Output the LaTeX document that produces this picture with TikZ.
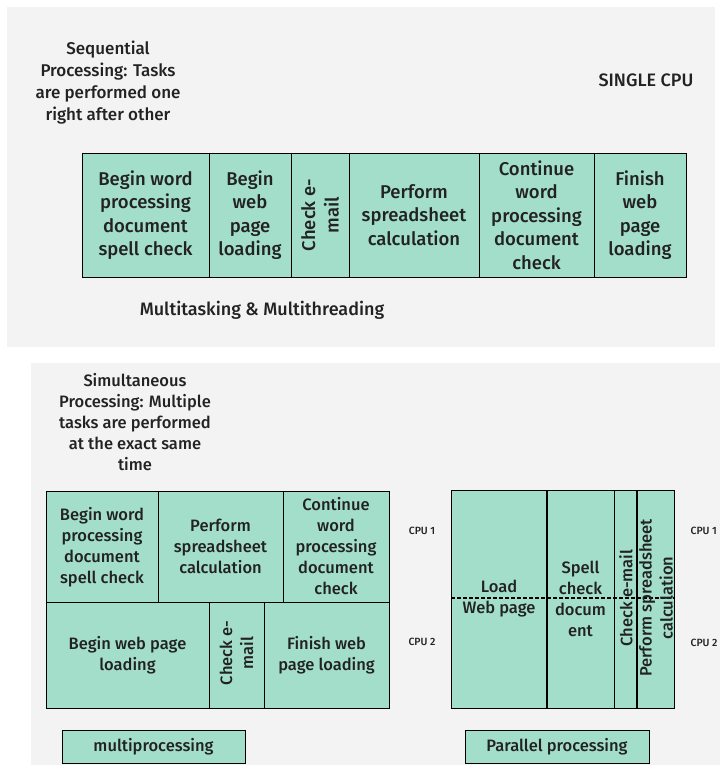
\documentclass[tikz,border=0pt]{standalone}
\usepackage{fontspec}
\setmainfont{Fira Sans}[UprightFont=* Medium]
\definecolor{cellfill}{HTML}{A3DECB}
\definecolor{panelgrey}{HTML}{F3F3F3}
\definecolor{inkgrey}{HTML}{222222}
\tikzset{
  cell/.style={draw=black, line width=1pt, fill=cellfill},
  celltext/.style={align=center, text=inkgrey, font=\fontsize{18.5}{23.5}\selectfont},
  gridtext/.style={align=center, text=inkgrey, font=\fontsize{16.5}{21}\selectfont},
  headtext/.style={align=center, text=inkgrey, font=\fontsize{17}{22}\selectfont},
  cpulabel/.style={text=inkgrey, font=\fontsize{10.5}{12}\selectfont},
}
\begin{document}
\begin{tikzpicture}[x=1pt,y=-1pt]
    \useasboundingbox (0,0) rectangle (720,765);
    \clip (0,0) rectangle (720,765);
    \fill[panelgrey] (7,7) rectangle (715,347);
    \fill[panelgrey] (31,363) rectangle (720,765);
    % single cpu
    \node[headtext] (seqtitle) at (108,83) {Sequential\\Processing: Tasks\\are performed one\\right after other};
    \node[headtext, font=\fontsize{18}{22}\selectfont] (singlecpu) at (646,80) {SINGLE CPU};
    \draw[cell] (82,153) rectangle (209,277);
    \draw[cell] (209,153) rectangle (291,277);
    \draw[cell] (291,153) rectangle (349,277);
    \draw[cell] (349,153) rectangle (479,277);
    \draw[cell] (479,153) rectangle (594,277);
    \draw[cell] (594,153) rectangle (686,277);
    \node[celltext] (seqword) at (145.5,215) {Begin word\\processing\\document\\spell check};
    \node[celltext] (seqweb) at (250,215) {Begin\\web\\page\\loading};
    \node[celltext, rotate=90] (seqmail) at (320,215) {Check e-\\mail};
    \node[celltext] (seqsheet) at (414,215) {Perform\\spreadsheet\\calculation};
    \node[celltext] (seqcont) at (536.5,215) {Continue\\word\\processing\\document\\check};
    \node[celltext] (seqfinish) at (640,215) {Finish\\web\\page\\loading};
    \node[headtext, font=\fontsize{18}{22}\selectfont] (multitask) at (262,310) {Multitasking \& Multithreading};
    % multiprocessing
    \node[gridtext] (simtitle) at (135,422) {Simultaneous\\Processing: Multiple\\tasks are performed\\at the exact same\\time};
    \draw[cell] (46,491) rectangle (158,602);
    \draw[cell] (158,491) rectangle (283,602);
    \draw[cell] (283,491) rectangle (389,602);
    \draw[cell] (46,602) rectangle (209,708);
    \draw[cell] (209,602) rectangle (264,708);
    \draw[cell] (264,602) rectangle (389,708);
    \node[gridtext] (mpword) at (102,547) {Begin word\\processing\\document\\spell check};
    \node[gridtext] (mpsheet) at (220.5,546) {Perform\\spreadsheet\\calculation};
    \node[gridtext] (mpcont) at (336,546) {Continue\\word\\processing\\document\\check};
    \node[gridtext] (mpweb) at (127.5,655) {Begin web page\\loading};
    \node[gridtext, rotate=90] (mpmail) at (236.5,653) {Check e-\\mail};
    \node[gridtext] (mpfinish) at (326.5,655) {Finish web\\page loading};
    \node[cpulabel] (mpcpuone) at (422,531) {CPU 1};
    \node[cpulabel] (mpcputwo) at (422,642) {CPU 2};
    \draw[cell] (62,730) rectangle (245,763);
    \node[gridtext] (mplabel) at (153.5,746.5) {multiprocessing};
    % parallel processing
    \draw[cell] (451,490) rectangle (547,708);
    \draw[cell] (547,490) rectangle (614,708);
    \draw[cell] (614,490) rectangle (637,708);
    \draw[cell] (637,490) rectangle (674,708);
    \draw[line width=1.6pt] (547,490) -- (547,708);
    \draw[line width=1.6pt] (637,490) -- (637,708);
    \draw[dashed, dash pattern=on 4pt off 2pt, line width=1.2pt] (451,598) -- (674,598);
    \node[gridtext] (ppload) at (499,599) {Load\\Web page};
    \node[gridtext] (ppspell) at (580.5,599) {Spell\\check\\docum\\ent};
    \node[gridtext, rotate=90] (ppmail) at (626,598) {Check e-mail};
    \node[gridtext, rotate=90] (ppsheet) at (656,598) {Perform spreadsheet\\calculation};
    \node[cpulabel, anchor=west] (ppcpuone) at (687,531) {CPU 1};
    \node[cpulabel, anchor=west] (ppcputwo) at (687,643) {CPU 2};
    \draw[cell] (465,730) rectangle (649,763);
    \node[gridtext] (pplabel) at (557,746.5) {Parallel processing};
\end{tikzpicture}
\end{document}
